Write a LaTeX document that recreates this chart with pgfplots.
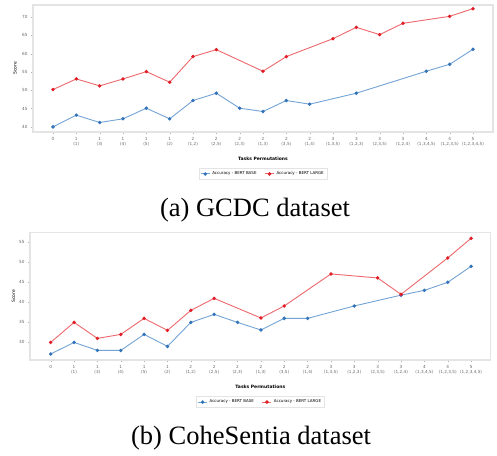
\documentclass[border=0pt]{standalone}
\usepackage{fontspec}
\setmainfont{DejaVu Sans}
\newfontfamily\capfont{Liberation Serif}
\usepackage{pgfplots}
\pgfplotsset{compat=1.18}
\definecolor{bline}{RGB}{115,163,212}
\definecolor{bmark}{RGB}{50,115,185}
\definecolor{rline}{RGB}{236,104,108}
\definecolor{rmark}{RGB}{225,30,40}
\definecolor{frame}{RGB}{228,228,228}
\pgfplotsset{
  mystyle/.style={
    scale only axis,
    axis line style={draw=frame, line width=1.1pt},
    tick style={draw=gray!60, line width=0.3pt},
    major tick length=2pt,
    tick pos=left,
    tick align=outside,
    /pgf/number format/assume math mode=true,
    ticklabel style={font=\fontsize{4.2}{4.6}\selectfont, text=gray!80!black},
    x tick label style={align=center},
    xtick={0,...,18},
    xticklabels={0,{1\\(1)},{1\\(3)},{1\\(4)},{1\\(5)},{1\\(2)},{2\\(1,2)},{2\\(2,5)},{2\\(2,3)},{2\\(1,3)},{2\\(3,5)},{2\\(1,4)},{3\\(1,3,5)},{3\\(1,2,3)},{3\\(2,3,5)},{3\\(1,2,4)},{4\\(1,3,4,5)},{4\\(1,2,3,5)},{5\\(1,2,3,4,5)}},
    xlabel={Tasks Permutations},
    ylabel={Score},
    label style={font=\fontsize{4.5}{5}\selectfont},
    xlabel style={font=\fontsize{4.5}{5}\selectfont\bfseries},
    legend columns=2,
    legend style={draw=frame, line width=0.4pt, font=\fontsize{4}{4.5}\selectfont, inner sep=1.2pt,
      /tikz/every even column/.append style={column sep=6pt}},
    legend cell align=left,
    legend image code/.code={\draw[mark repeat=2,mark phase=2] plot coordinates {(0cm,0cm) (0.16cm,0cm) (0.32cm,0cm)};},
  },
  bser/.style={color=bline, line width=0.9pt, mark=*, mark size=1.25pt, mark options={fill=bmark, draw=bmark}},
  rser/.style={color=rline, line width=0.9pt, mark=*, mark size=1.25pt, mark options={fill=rmark, draw=rmark}},
}
\begin{document}
\begin{tikzpicture}
\useasboundingbox (0,0) rectangle (497pt,-455pt);
\begin{axis}[mystyle,
  at={(33pt,-132pt)}, anchor=south west,
  width=460pt, height=127pt,
  xmin=-0.857, xmax=18.857,
  ymin=38.6, ymax=73.3,
  ytick={40,45,...,70},
  xlabel style={at={(axis description cs:0.5,-0.213)}, anchor=center},
  ylabel style={at={(axis description cs:-0.039,0.5)}, anchor=center},
  legend style={at={(0.5,-0.33)}, anchor=center},
]
\addplot[bser] coordinates {(0,40) (1,43.2) (2,41.2) (3,42.2) (4,45.1) (5,42.2) (6,47.2) (7,49.2) (8,45.1) (9,44.2) (10,47.2) (11,46.2) (13,49.2) (16,55.2) (17,57.1) (18,61.2)};
\addlegendentry{Accuracy - BERT BASE}
\addplot[rser] coordinates {(0,50.2) (1,53.1) (2,51.2) (3,53.1) (4,55.1) (5,52.2) (6,59.2) (7,61.1) (9,55.2) (10,59.2) (12,64.1) (13,67.2) (14,65.2) (15,68.3) (17,70.2) (18,72.3)};
\addlegendentry{Accuracy - BERT LARGE}
\end{axis}
\node[font=\capfont\fontsize{26.5}{30}\selectfont] at (255pt,-210pt) {(a) GCDC dataset};
\begin{axis}[mystyle,
  at={(30pt,-360pt)}, anchor=south west,
  width=460.7pt, height=127.7pt,
  xmin=-0.886, xmax=18.84,
  ymin=25.6, ymax=57.5,
  ytick={30,35,...,55},
  xlabel style={at={(axis description cs:0.5,-0.211)}, anchor=center},
  ylabel style={at={(axis description cs:-0.036,0.5)}, anchor=center},
  legend style={at={(0.5,-0.329)}, anchor=center},
]
\addplot[bser] coordinates {(0,27.1) (1,30) (2,28) (3,28) (4,32) (5,29) (6,35) (7,37) (8,35) (9,33.1) (10,36) (11,36) (13,39.1) (15,41.8) (16,43) (17,45) (18,49)};
\addlegendentry{Accuracy - BERT BASE}
\addplot[rser] coordinates {(0,30) (1,35) (2,31) (3,32) (4,36) (5,33) (6,38) (7,41) (9,36.1) (10,39.1) (12,47.1) (14,46.1) (15,42) (17,51.1) (18,56)};
\addlegendentry{Accuracy - BERT LARGE}
\end{axis}
\node[font=\capfont\fontsize{26.5}{30}\selectfont] at (251pt,-438pt) {(b) CoheSentia dataset};
\end{tikzpicture}
\end{document}
